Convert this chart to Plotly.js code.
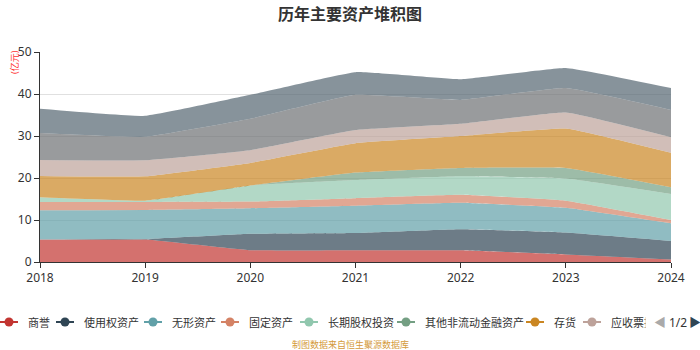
<!DOCTYPE html>
<html>
<head>
<meta charset="utf-8">
<script src="https://cdn.plot.ly/plotly-3.0.1.min.js"></script>
<style>html,body{margin:0;padding:0;background:#fff}#chart{width:700px;height:350px}</style>
</head>
<body>
<div id="chart"></div>
<script>
// ---- data (亿元) ----
const years = [2018, 2019, 2020, 2021, 2022, 2023, 2024];
const seriesNames = ['商誉','使用权资产','无形资产','固定资产','长期股权投资','其他非流动金融资产','存货','应收票据','应收账款','货币资金'];
const goodwill      = [5.35, 5.35, 2.8, 2.8, 2.8, 1.8, 0.6];
const rightOfUse    = [0, 0.1, 3.9, 4.1, 5.0, 5.2, 4.4];
const intangible    = [7.0, 6.95, 6.1, 6.5, 6.3, 5.9, 4.2];
const fixedAssets   = [1.95, 1.9, 1.6, 1.8, 1.9, 1.7, 0.8];
const ltEquity      = [1.1, 0.3, 3.8, 4.3, 4.4, 5.3, 6.2];
const otherNcFin    = [0, 0, 0, 1.8, 2.0, 2.5, 1.6];
const inventory     = [5.1, 5.8, 5.4, 7.0, 7.6, 9.4, 8.2];
const notesRecv     = [3.8, 3.8, 3.0, 3.1, 2.9, 3.8, 3.7];
const acctRecv      = [6.4, 5.6, 7.5, 8.4, 5.7, 5.8, 6.5];
const cash          = [5.8, 5.0, 5.7, 5.4, 4.9, 4.8, 5.2];
const seriesValues = [goodwill, rightOfUse, intangible, fixedAssets, ltEquity, otherNcFin, inventory, notesRecv, acctRecv, cash];
const yTicks = [0, 10, 20, 30, 40, 50];
const legendShown = 8;

// ---- styles ----
const palette = ['#c23531','#2f4554','#61a0a8','#d48265','#91c7ae','#749f83','#ca8622','#bda29a','#6e7074','#546570'];
function rgba(hex, a){
  const n = parseInt(hex.slice(1),16);
  return 'rgba(' + ((n>>16)&255) + ',' + ((n>>8)&255) + ',' + (n&255) + ',' + a + ')';
}
const FONT = 'Noto Sans, Noto Sans CJK SC, sans-serif';

const traces = seriesNames.map((name, i) => ({
  type: 'scatter',
  mode: 'lines',
  name: name,
  x: years,
  y: seriesValues[i],
  stackgroup: 'one',
  line: {width: 0, shape: 'spline', smoothing: 0.3, color: palette[i]},
  fillcolor: rgba(palette[i], 0.7),
  showlegend: false
}));

// plot area geometry (pixels)
const L = 40, T = 52, W = 631, H = 210;
const px = v => (v - L) / W;
const py = v => (T + H - v) / H;

// custom legend (page 1 of 2)
const legendItems = [
  {c: 9, t: 26}, {c: 65, t: 82}, {c: 153, t: 170}, {c: 230, t: 247},
  {c: 309, t: 326}, {c: 406, t: 423}, {c: 535, t: 552}, {c: 592, t: 609}
];
const LY = 322;
const shapes = [];
const annotations = [];
for (let i = 0; i < legendShown; i++) {
  const it = legendItems[i];
  shapes.push({type:'line', xref:'paper', yref:'paper', x0: px(Math.max(0, it.c-9)), x1: px(it.c+9), y0: py(LY), y1: py(LY),
    line:{color: palette[i], width: 2}});
  shapes.push({type:'circle', xref:'paper', yref:'paper', xsizemode:'pixel', ysizemode:'pixel',
    xanchor: px(it.c), yanchor: py(LY), x0:-4.5, x1:4.5, y0:-4.5, y1:4.5,
    fillcolor: palette[i], line:{color: palette[i], width: 0}});
  annotations.push({xref:'paper', yref:'paper', x: px(it.t), y: py(LY), xanchor:'left', yanchor:'middle',
    text: seriesNames[i], showarrow:false, font:{family: FONT, size: 11, color:'#333'}});
}
// pager
annotations.push({xref:'paper', yref:'paper', x: px(667), y: py(LY), xanchor:'right', yanchor:'middle',
  text:'◀', showarrow:false, bgcolor:'#fff', width: 20, align:'right', borderpad:0,
  font:{family: FONT, size: 12, color:'#aaaaaa'}});
annotations.push({xref:'paper', yref:'paper', x: px(678), y: py(LY), xanchor:'center', yanchor:'middle',
  text:'1/2', showarrow:false, font:{family: FONT, size: 12, color:'#333'}});
annotations.push({xref:'paper', yref:'paper', x: px(695), y: py(LY), xanchor:'center', yanchor:'middle',
  text:'▶', showarrow:false, font:{family: FONT, size: 12, color:'#2f4554'}});
// unit
annotations.push({xref:'paper', yref:'paper', x: px(14), y: py(62), xanchor:'center', yanchor:'middle',
  text:'(亿元)', textangle:-90, showarrow:false, font:{family: FONT, size: 9, color:'#ff3333'}});
// source
annotations.push({xref:'paper', yref:'paper', x: px(350), y: py(344), xanchor:'center', yanchor:'middle',
  text:'制图数据来自恒生聚源数据库', showarrow:false, font:{family: FONT, size: 9, color:'#d49a3a'}});

const layout = {
  width: 700, height: 350,
  margin: {l: L, r: 700 - L - W, t: T, b: 350 - T - H, pad: 0},
  paper_bgcolor: '#fff', plot_bgcolor: '#fff',
  title: {text: '<b>历年主要资产堆积图</b>', x: 0.5, xanchor: 'center', y: 1 - 14/350, yanchor: 'middle', yref: 'container',
    font: {family: FONT, size: 16, color: '#333'}},
  showlegend: false,
  xaxis: {range: [2018, 2024], tickvals: years, ticktext: years.map(String), showgrid: false, zeroline: false,
    showline: true, linecolor: '#333', linewidth: 1, ticks: 'outside', ticklen: 5, tickcolor: '#333',
    tickfont: {family: FONT, size: 12, color: '#333'}, fixedrange: true},
  yaxis: {range: [0, 50], tickvals: yTicks, showgrid: true, gridcolor: '#e0e0e0', gridwidth: 1, zeroline: false,
    showline: true, linecolor: '#333', linewidth: 1, ticks: 'outside', ticklen: 5, tickcolor: '#333',
    tickfont: {family: FONT, size: 12, color: '#333'}, fixedrange: true},
  shapes: shapes,
  annotations: annotations
};

Plotly.newPlot('chart', traces, layout, {displayModeBar: false, staticPlot: true});
</script>
</body>
</html>
